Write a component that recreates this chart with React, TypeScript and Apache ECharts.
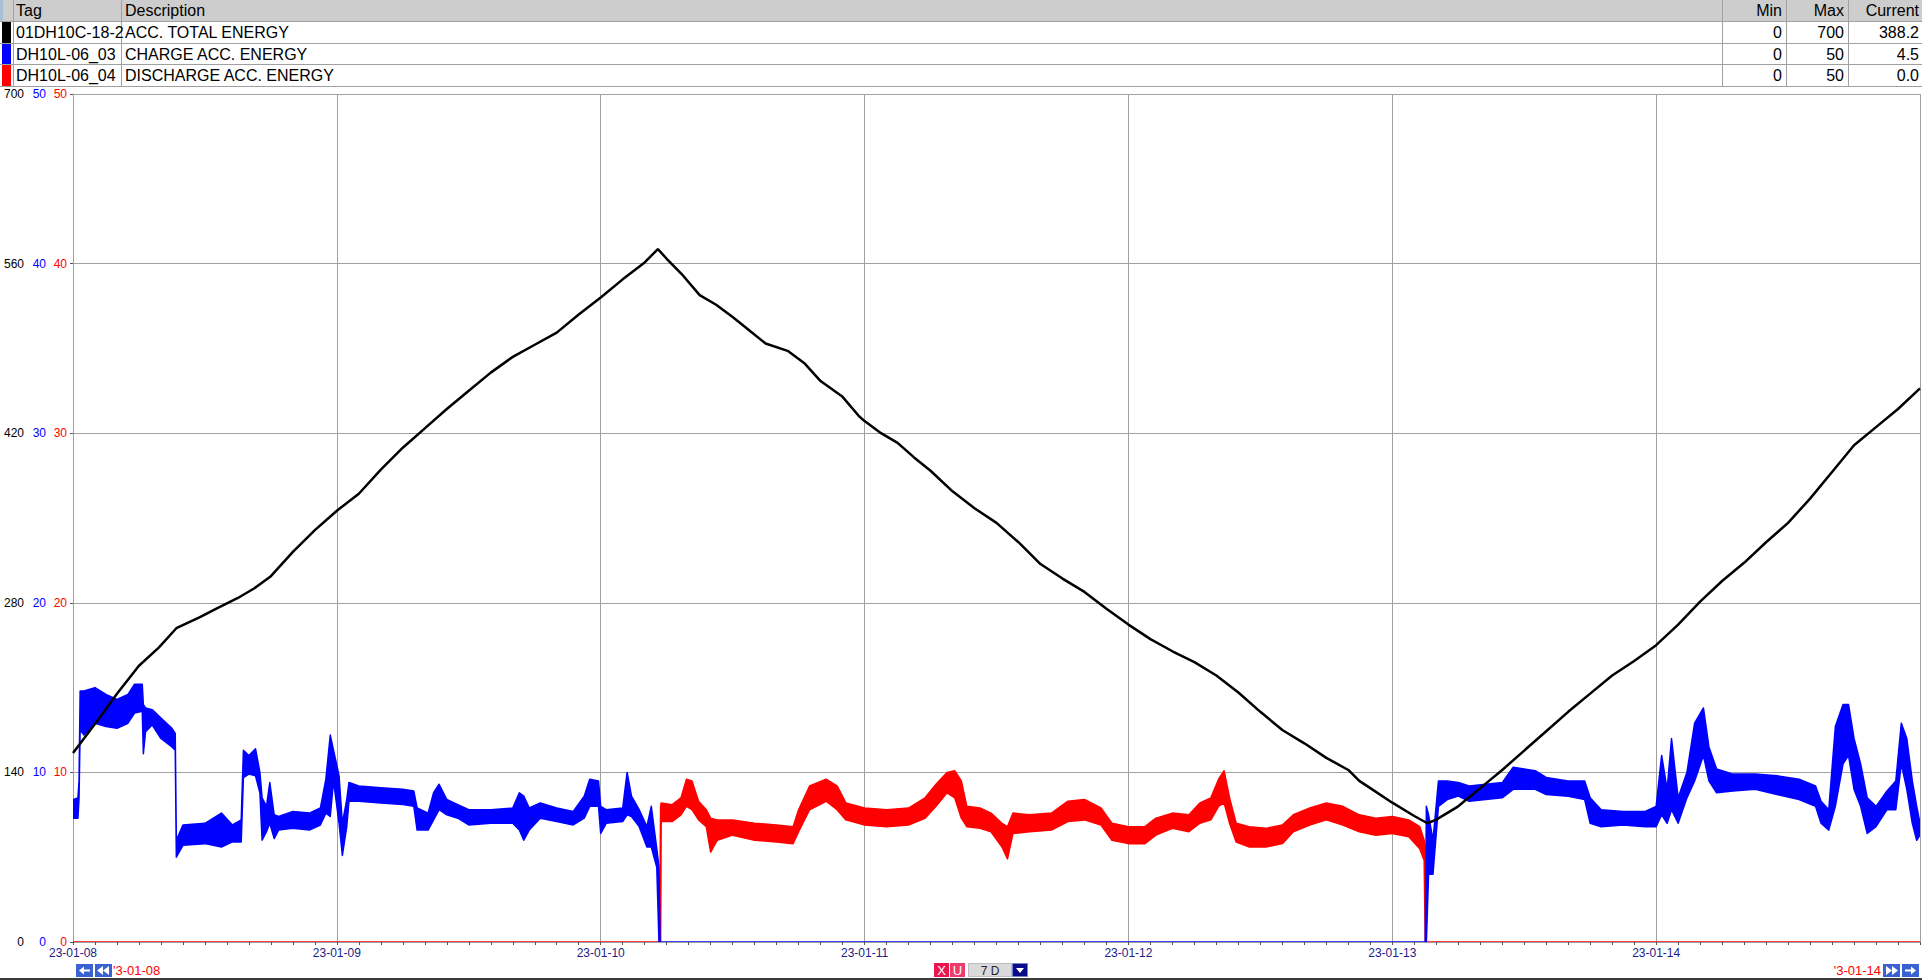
import React, { useEffect, useRef } from "react";
import * as echarts from "echarts";

// ---------------- data ----------------
const dayLabels = ["23-01-08", "23-01-09", "23-01-10", "23-01-11", "23-01-12", "23-01-13", "23-01-14"];

const headers = ["Tag", "Description", "Min", "Max", "Current"];
const tags = ["01DH10C-18-2", "DH10L-06_03", "DH10L-06_04"];
const descriptions = ["ACC. TOTAL ENERGY", "CHARGE ACC. ENERGY", "DISCHARGE ACC. ENERGY"];
const mins = ["0", "0", "0"];
const maxs = ["700", "50", "50"];
const currents = ["388.2", "4.5", "0.0"];
const tagColors = ["#000000", "#0000ff", "#ff0000"];

// hours since 23-01-08 00:00
const blackH = [0, 1, 2.4, 4, 6, 7.8, 9.4, 11.5, 13, 15, 16.5, 18, 20, 22, 24, 26, 28, 30, 32, 34, 36, 38, 40, 42, 44, 46, 48, 50, 52, 53.2, 54, 55.5, 57, 58.5, 60, 61.5, 63, 65, 66.5, 68, 70, 71.5, 72, 73.5, 75, 76.5, 78, 80, 82, 84, 86, 88, 90, 92, 94, 96, 98, 100, 102, 104, 106, 108, 110, 112, 114, 116, 117, 118, 120, 122, 123.2, 124, 126, 128, 130, 132, 134, 136, 138, 140, 142, 144, 146, 148, 150, 152, 154, 156, 158, 160, 162, 164, 166, 168];
const blackV = [156, 168, 185, 205, 228, 243, 259, 268, 275, 284, 292, 302, 322, 340, 356, 370, 390, 408, 424, 440, 455, 470, 483, 493, 503, 518, 532, 547, 561, 572, 564, 550, 534, 526, 516, 505, 494, 488, 478, 463, 450, 434, 430, 420, 412, 400, 389, 372, 358, 346, 330, 312, 300, 289, 275, 262, 250, 240, 231, 220, 206, 190, 175, 164, 152, 142, 133, 127, 115, 104, 98, 101, 112, 127, 142, 158, 174, 190, 205, 220, 232, 245, 262, 281, 298, 313, 330, 346, 366, 388, 410, 425, 440, 457];

const blueH = [0, 0.45, 0.55, 0.65, 1.0, 2.0, 3.0, 4.0, 5.0, 5.6, 6.3, 6.4, 6.6, 7.2, 8.0, 9.0, 9.3, 9.4, 10.0, 12.0, 13.5, 14.5, 15.3, 15.5, 16.0, 16.6, 17.0, 17.2, 17.6, 17.9, 18.3, 18.7, 20.0, 21.5, 22.5, 23.0, 23.4, 23.7, 24.2, 24.5, 24.9, 25.1, 26.0, 28.0, 30.0, 31.0, 31.3, 32.3, 32.8, 33.3, 34.0, 35.0, 36.0, 38.0, 40.0, 40.6, 41.0, 41.5, 42.5, 44.0, 45.5, 46.5, 47.0, 47.8, 48.0, 48.5, 50.0, 50.4, 50.8, 51.5, 52.2, 52.6, 53.1, 53.3, 53.4, 123.0, 123.1, 123.3, 123.7, 124.2, 125, 126, 127, 128.5, 130, 131, 133, 134, 136, 137.5, 138, 139, 141, 143, 144, 144.5, 145, 145.4, 146, 146.8, 147.5, 148.3, 148.8, 149.5, 151, 153, 155, 157, 158.5, 159, 159.7, 160.3, 161, 161.5, 162, 162.6, 163.2, 164, 165, 165.8, 166.3, 166.8, 167.3, 167.7, 168];
const blueLo = [7.3, 7.3, 8.5, 12.5, 12.2, 12.9, 12.7, 12.6, 12.9, 13.5, 13.6, 11.1, 12.4, 12.8, 12.0, 11.5, 11.3, 5.0, 5.7, 5.8, 5.6, 5.9, 5.9, 9.7, 9.9, 9.8, 8.8, 6.0, 6.5, 7.0, 6.1, 6.6, 6.7, 6.6, 6.9, 7.6, 7.4, 9.5, 7.0, 5.1, 6.8, 8.3, 8.3, 8.2, 8.1, 8.0, 6.6, 6.6, 7.2, 7.8, 7.5, 7.3, 6.9, 7.0, 7.0, 6.6, 6.0, 6.6, 7.3, 7.1, 6.9, 7.3, 8.0, 8.0, 6.4, 7.0, 7.1, 7.5, 7.4, 6.8, 5.6, 5.6, 4.4, 0, 0, 0, 0, 4.0, 4.0, 8.0, 8.4, 8.6, 8.3, 8.4, 8.5, 9.0, 9.0, 8.7, 8.6, 8.4, 7.0, 6.8, 6.9, 6.8, 6.8, 7.5, 7.0, 7.8, 7.0, 8.5, 9.5, 11.0, 9.5, 8.8, 8.9, 9.0, 8.7, 8.4, 8.0, 7.0, 6.6, 8.0, 10.5, 11.0, 9.0, 8.0, 6.4, 6.8, 7.8, 7.8, 10.5, 9.0, 7.0, 6.0, 6.3];
const blueHi = [8.4, 8.5, 9.5, 14.8, 14.8, 15.0, 14.6, 14.3, 14.6, 15.2, 15.2, 14.0, 13.8, 13.7, 13.2, 12.6, 12.3, 6.0, 6.9, 7.0, 7.6, 6.9, 7.2, 11.3, 11.0, 11.4, 10.0, 8.5, 8.0, 9.4, 7.5, 7.4, 7.7, 7.6, 7.9, 9.6, 12.2, 11.3, 9.8, 7.0, 8.4, 9.4, 9.2, 9.1, 9.0, 8.9, 7.9, 7.6, 8.8, 9.3, 8.4, 8.1, 7.8, 7.8, 7.9, 8.8, 8.6, 7.9, 8.2, 7.9, 7.7, 8.6, 9.6, 9.5, 8.0, 7.8, 7.9, 10.0, 8.6, 7.8, 6.8, 8.0, 5.5, 4.4, 0, 0, 8.0, 7.5, 6.0, 9.5, 9.5, 9.4, 9.2, 9.3, 9.4, 10.3, 10.1, 9.7, 9.5, 9.5, 8.5, 7.8, 7.7, 7.7, 8.0, 11.0, 9.0, 12.0, 8.5, 10.0, 12.9, 13.8, 11.5, 10.2, 9.9, 9.9, 9.8, 9.6, 9.2, 8.3, 7.8, 12.7, 14.0, 14.0, 12.0, 10.5, 8.5, 8.0, 8.9, 9.5, 12.9, 12.0, 9.5, 8.0, 7.0];

const redH = [0, 53.35, 53.45, 53.5, 54.5, 55.3, 55.8, 56.3, 56.9, 57.6, 58.0, 58.6, 60, 62, 64, 65.5, 66, 67, 68.5, 69.5, 70.3, 72, 74, 76, 77.5, 78.5, 79.5, 80.2, 80.8, 81.3, 82.5, 83.5, 84.5, 85, 85.5, 87, 89, 90.5, 92, 93.5, 94.5, 96, 97.5, 98.5, 100, 101.5, 102.5, 103.5, 104.2, 104.7, 105.2, 105.8, 107, 108.5, 110, 111, 112.5, 114, 115.5, 117, 118.5, 120, 121.5, 122.5, 122.9, 123.0, 123.05, 168];
const redLo = [0, 0, 0, 7.1, 7.1, 7.5, 8.0, 7.8, 7.2, 6.8, 5.3, 6.0, 6.3, 6.0, 5.9, 5.8, 6.5, 7.8, 8.3, 7.8, 7.2, 6.9, 6.8, 6.9, 7.3, 8.0, 8.8, 8.5, 7.3, 6.8, 6.7, 6.5, 5.6, 4.9, 6.4, 6.5, 6.6, 7.1, 7.2, 6.9, 6.0, 5.8, 5.8, 6.3, 6.7, 6.5, 7.0, 7.2, 8.0, 8.2, 7.0, 5.9, 5.6, 5.6, 5.8, 6.5, 6.9, 7.2, 6.9, 6.5, 6.3, 6.4, 6.2, 5.5, 4.8, 0, 0, 0];
const redHi = [0, 0, 8.0, 8.2, 8.1, 8.5, 9.6, 9.5, 8.3, 7.8, 7.3, 7.2, 7.2, 7.0, 6.9, 6.8, 7.8, 9.2, 9.6, 9.2, 8.2, 7.9, 7.8, 7.9, 8.5, 9.3, 10.0, 10.1, 9.5, 8.0, 7.9, 7.6, 7.0, 6.8, 7.6, 7.5, 7.6, 8.3, 8.4, 7.9, 7.0, 6.8, 6.8, 7.3, 7.6, 7.5, 8.2, 8.5, 9.6, 10.1, 8.5, 7.0, 6.8, 6.7, 6.9, 7.5, 7.9, 8.2, 8.0, 7.5, 7.3, 7.4, 7.2, 6.8, 6.0, 5.5, 0, 0];

const navLeftText = "'3-01-08";
const navRightText = "'3-01-14";
const spanText = "7 D";

// ---------------- helpers ----------------
const pairs = (xs: number[], ys: number[]) => xs.map((x, i) => [x, ys[i]]);

const FONT = '"Liberation Sans", Arial, sans-serif';

function txt(text: string, x: number, y: number, opts: any = {}) {
  const align = opts.align || "left";
  return {
    type: "text",
    x,
    y,
    silent: true,
    z: 10,
    style: {
      text,
      fill: opts.fill || "#000",
      font: `${opts.size || 16}px ${FONT}`,
      align,
      textAlign: align,
      verticalAlign: "middle",
      textVerticalAlign: "middle",
    },
  };
}
function rect(x: number, y: number, w: number, h: number, fill: string, stroke?: string) {
  return {
    type: "rect",
    silent: true,
    z: 5,
    shape: { x, y, width: w, height: h },
    style: stroke ? { fill, stroke, lineWidth: 1 } : { fill },
  };
}
function line(x1: number, y1: number, x2: number, y2: number, stroke: string, w = 1) {
  return { type: "line", silent: true, z: 6, shape: { x1, y1, x2, y2 }, style: { stroke, lineWidth: w } };
}
function poly(points: number[][], fill: string) {
  return { type: "polygon", silent: true, z: 11, shape: { points }, style: { fill } };
}

function buildGraphics() {
  const g: any[] = [];
  const W = 1922;
  const rowTop = [21, 43, 64];
  const rowH = 22;
  g.push(rect(0, 0, W, 21, "#cdcdcd"));
  g.push(rect(0, 0, 3, 21, "#a9bfd6"));
  g.push(rect(0, 21, W, 65, "#ffffff"));
  [21, 43, 64, 86].forEach((y) => g.push(line(0, y + 0.5, W, y + 0.5, "#a0a0a0")));
  [13.5, 121.5, 1722.5, 1786.5, 1848.5].forEach((x) => g.push(line(x, 0, x, 86, "#a0a0a0")));
  g.push(txt(headers[0], 16, 10.5));
  g.push(txt(headers[1], 125, 10.5));
  g.push(txt(headers[2], 1782, 10.5, { align: "right" }));
  g.push(txt(headers[3], 1844, 10.5, { align: "right" }));
  g.push(txt(headers[4], 1919, 10.5, { align: "right" }));
  rowTop.forEach((top, i) => {
    const cy = top + rowH / 2 + 0.5;
    g.push(rect(2, top + 1, 9, rowH - 1, tagColors[i]));
    g.push(txt(tags[i], 16, cy));
    g.push(txt(descriptions[i], 125, cy));
    g.push(txt(mins[i], 1782, cy, { align: "right" }));
    g.push(txt(maxs[i], 1844, cy, { align: "right" }));
    g.push(txt(currents[i], 1919, cy, { align: "right" }));
  });

  const btn = "#3a62d0";
  const by = 964, bh = 13, cy = 970.5;
  g.push(rect(76, by, 17, bh, btn));
  g.push(poly([[79, cy], [84, cy - 4], [84, cy + 4]], "#fff"));
  g.push({ ...line(84, cy, 90, cy, "#fff", 2), z: 11 });
  g.push(rect(95, by, 17, bh, btn));
  g.push(poly([[97, cy], [103, cy - 4.5], [103, cy + 4.5]], "#fff"));
  g.push(poly([[103, cy], [109, cy - 4.5], [109, cy + 4.5]], "#fff"));
  g.push(txt(navLeftText, 113, cy, { fill: "#ff0000", size: 13 }));

  g.push(rect(934, 963, 15, 14, "#e8174f"));
  g.push(txt("X", 941.5, 970.5, { fill: "#fff", size: 13, align: "center" }));
  g.push(rect(950, 963, 15, 14, "#ee3a6c"));
  g.push(txt("U", 957.5, 970.5, { fill: "#fff", size: 13, align: "center" }));
  g.push(rect(968.5, 963.5, 43, 13, "#dadada", "#bcbcbc"));
  g.push(txt(spanText, 990, 970.5, { fill: "#222", size: 12, align: "center" }));
  g.push(rect(1012.5, 963.5, 15, 13, "#0b0b8a", "#7080d0"));
  g.push(poly([[1016, 968], [1024, 968], [1020, 973]], "#fff"));

  g.push(txt(navRightText, 1881, cy, { fill: "#ff0000", size: 13, align: "right" }));
  g.push(rect(1883, by, 17, bh, btn));
  g.push(poly([[1886, cy - 4.5], [1892, cy], [1886, cy + 4.5]], "#fff"));
  g.push(poly([[1892, cy - 4.5], [1898, cy], [1892, cy + 4.5]], "#fff"));
  g.push(rect(1902, by, 17, bh, btn));
  g.push({ ...line(1905, cy, 1912, cy, "#fff", 2), z: 11 });
  g.push(poly([[1916, cy], [1911, cy - 4], [1911, cy + 4]], "#fff"));

  g.push(rect(0, 978, W, 2, "#3a3a3a"));
  return g;
}

// band between a lower and an upper trace, drawn through the axis scales
function bandSeries(name: string, xs: number[], lo: number[], hi: number[], color: string, axis: number) {
  return {
    name,
    type: "custom",
    yAxisIndex: axis,
    silent: true,
    clip: true,
    data: xs.map((x, i) => [x, lo[i], hi[i]]),
    encode: { x: 0, y: [1, 2] },
    renderItem: (params: any, api: any) => {
      if (params.dataIndex !== 0) return null;
      const pts: number[][] = [];
      for (let i = 0; i < xs.length; i++) pts.push(api.coord([xs[i], lo[i]]));
      for (let i = xs.length - 1; i >= 0; i--) pts.push(api.coord([xs[i], hi[i]]));
      return {
        type: "polygon",
        shape: { points: pts },
        style: { fill: color, stroke: color, lineWidth: 1.5, lineJoin: "round" },
      };
    },
  };
}

function buildOption(): any {
  const labelFont = { fontFamily: FONT, fontSize: 12 };
  return {
    animation: false,
    backgroundColor: "#ffffff",
    grid: { left: 73, right: 2, top: 94, bottom: 38, containLabel: false },
    xAxis: {
      type: "value",
      min: 0,
      max: 168,
      interval: 24,
      axisLine: { show: true, lineStyle: { color: "#a0a0a0" } },
      axisTick: { show: true, length: 3, lineStyle: { color: "#555" } },
      minorTick: { show: true, splitNumber: 12, length: 3, lineStyle: { color: "#555" } },
      splitLine: { show: true, lineStyle: { color: "#a0a0a0", width: 1 } },
      axisLabel: {
        ...labelFont,
        color: "#1b1b8a",
        margin: 5,
        showMaxLabel: false,
        formatter: (v: number) => dayLabels[Math.round(v / 24)] ?? "",
      },
    },
    yAxis: [
      {
        type: "value",
        min: 0,
        max: 700,
        interval: 140,
        position: "left",
        axisLine: { show: true, lineStyle: { color: "#a0a0a0" } },
        axisTick: { show: true, length: 3, lineStyle: { color: "#555" } },
        splitLine: { show: true, lineStyle: { color: "#a0a0a0", width: 1 } },
        axisLabel: { ...labelFont, color: "#000000", margin: 49 },
      },
      {
        type: "value",
        min: 0,
        max: 50,
        interval: 10,
        position: "left",
        axisLine: { show: false },
        axisTick: { show: false },
        splitLine: { show: false },
        axisLabel: { ...labelFont, color: "#0000ff", margin: 27 },
      },
      {
        type: "value",
        min: 0,
        max: 50,
        interval: 10,
        position: "left",
        axisLine: { show: false },
        axisTick: { show: false },
        splitLine: { show: false },
        axisLabel: { ...labelFont, color: "#ff0000", margin: 6 },
      },
    ],
    series: [
      bandSeries("DISCHARGE ACC. ENERGY", redH, redLo, redHi, "#ff0000", 2),
      bandSeries("CHARGE ACC. ENERGY", blueH, blueLo, blueHi, "#0000ff", 1),
      {
        name: "ACC. TOTAL ENERGY",
        type: "line",
        yAxisIndex: 0,
        data: pairs(blackH, blackV),
        symbol: "none",
        silent: true,
        lineStyle: { color: "#000000", width: 2.5 },
        itemStyle: { color: "#000000" },
      },
    ],
    graphic: { elements: buildGraphics() },
  };
}

export default function App() {
  const ref = useRef<HTMLDivElement>(null);
  useEffect(() => {
    if (!ref.current) return;
    const chart = echarts.init(ref.current, null, { renderer: "svg", width: 1922, height: 980 });
    chart.setOption(buildOption());
    return () => chart.dispose();
  }, []);
  return (
    <div
      ref={ref}
      style={{ position: "fixed", left: 0, top: 0, width: 1922, height: 980, background: "#fff" }}
    />
  );
}
